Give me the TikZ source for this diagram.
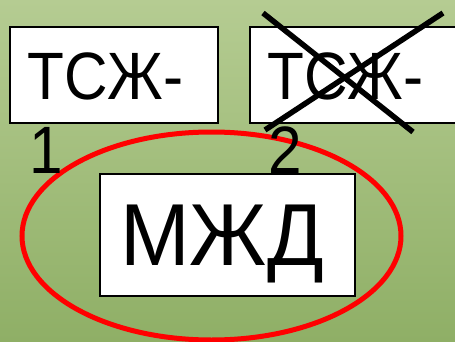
\documentclass[tikz,border=0pt]{standalone}
\usepackage{fontspec}
\setmainfont{Liberation Sans}
\newfontfamily\labelfont[FakeStretch=0.9]{Liberation Sans}
\newfontfamily\titlefont[FakeStretch=0.95]{Liberation Sans}
\usetikzlibrary{shapes.geometric}
\begin{document}
\begin{tikzpicture}[x=1pt,y=1pt,
  card/.style={draw=black, line width=1.6pt, fill=white, inner sep=0pt, anchor=south west},
  small/.style={font=\labelfont\fontsize{67}{74}\selectfont, inner sep=0pt, anchor=base west},
  big/.style={font=\titlefont\fontsize{88}{96}\selectfont, inner sep=0pt, anchor=base},
  cross/.style={line width=5.5pt, black}]
\useasboundingbox (0,0) rectangle (455,341);
\clip (0,0) rectangle (455,341);
% green backdrop
\shade[top color={rgb,255:red,181;green,204;blue,146}, bottom color={rgb,255:red,143;green,175;blue,102}]
  (0,0) rectangle (455,341);
% red ring around the house
\node (ring) [draw={rgb,255:red,255;green,0;blue,0}, line width=5pt, ellipse,
  minimum width=379pt, minimum height=208pt, inner sep=0pt] at (211.5,105) {};
% two associations
\node (tsj1) [card, minimum width=208pt, minimum height=96pt] at (9,217) {};
\node (tsj2) [card, minimum width=230pt, minimum height=96pt] at (249,217) {};
\node (t1) [small] at (27,242) {ТСЖ-};
\node (n1) [small] at (29,168) {1};
\node (t2) [small] at (267,242) {ТСЖ-};
\node (n2) [small] at (268,168) {2};
% the second one is struck out
\coordinate (xa) at (263,328);
\coordinate (xb) at (413,209);
\coordinate (xc) at (443,328);
\coordinate (xd) at (265,211);
\draw[cross] (xa) -- (xb);
\draw[cross] (xc) -- (xd);
% apartment building
\node (mjd) [card, minimum width=255pt, minimum height=122pt] at (99,44) {};
\node (mjdt) [big] at (222,76) {МЖД};
\end{tikzpicture}
\end{document}
